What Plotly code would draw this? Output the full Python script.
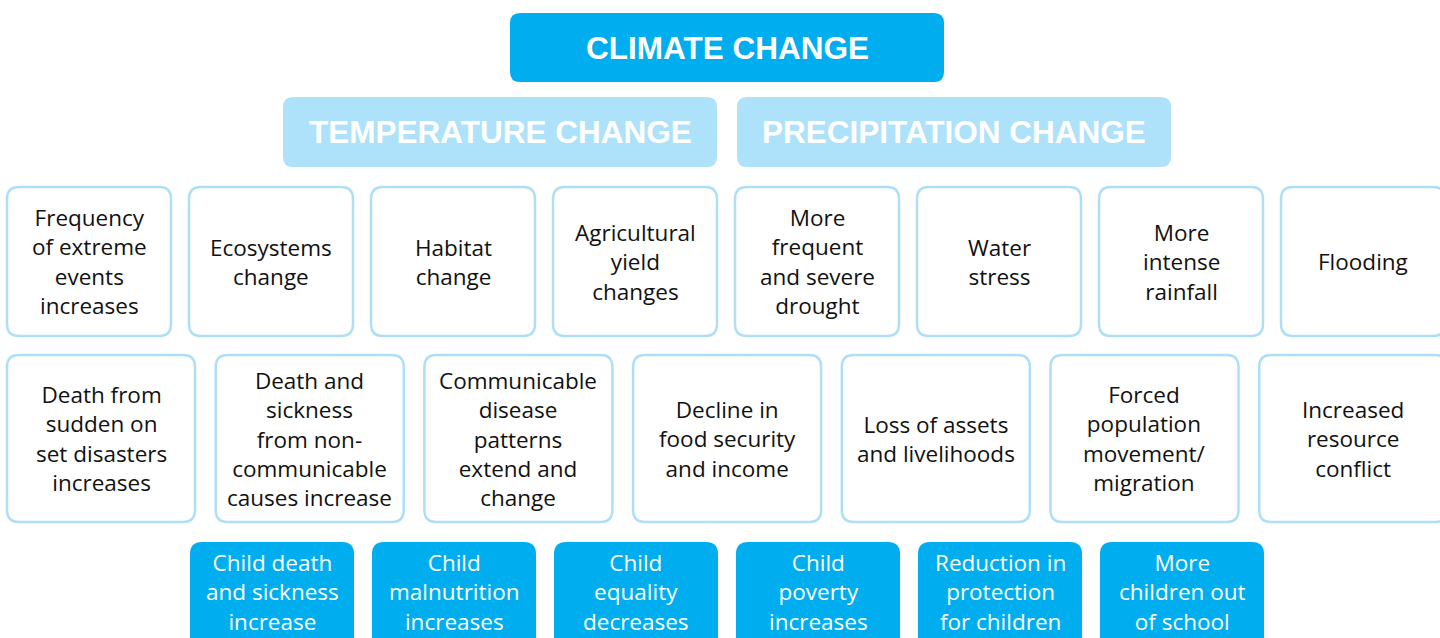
import plotly.graph_objects as go

# ---- data (text content) ----
top_label = ["CLIMATE CHANGE"]
level2_labels = ["TEMPERATURE CHANGE", "PRECIPITATION CHANGE"]
level3_labels = [
    "Frequency<br>of extreme<br>events<br>increases",
    "Ecosystems<br>change",
    "Habitat<br>change",
    "Agricultural<br>yield<br>changes",
    "More<br>frequent<br>and severe<br>drought",
    "Water<br>stress",
    "More<br>intense<br>rainfall",
    "Flooding",
]
level4_labels = [
    "Death from<br>sudden on<br>set disasters<br>increases",
    "Death and<br>sickness<br>from non-<br>communicable<br>causes increase",
    "Communicable<br>disease<br>patterns<br>extend and<br>change",
    "Decline in<br>food security<br>and income",
    "Loss of assets<br>and livelihoods",
    "Forced<br>population<br>movement/<br>migration",
    "Increased<br>resource<br>conflict",
]
level5_labels = [
    "Child death<br>and sickness<br>increase",
    "Child<br>malnutrition<br>increases",
    "Child<br>equality<br>decreases",
    "Child<br>poverty<br>increases",
    "Reduction in<br>protection<br>for children",
    "More<br>children out<br>of school",
]

# ---- styles ----
W, H = 1440, 638
DARK = "#00AEEF"
LIGHT = "#AEE2FA"
BORDER = "#AEDFF7"
TEXT = "#111111"
BODY_FONT = "Open Sans"
BODY_SIZE = 22.5


def rounded(x0, y0, x1, y1, r):
    return (f"M {x0+r},{y0} L {x1-r},{y0} Q {x1},{y0} {x1},{y0+r} "
            f"L {x1},{y1-r} Q {x1},{y1} {x1-r},{y1} L {x0+r},{y1} "
            f"Q {x0},{y1} {x0},{y1-r} L {x0},{y0+r} Q {x0},{y0} {x0+r},{y0} Z")


shapes = []
annotations = []


def add_box(x0, y0, x1, y1, label, fill, line_color, line_w, font_color,
            size, bold=False, ty=None, r=12):
    shapes.append(dict(type="path", path=rounded(x0, y0, x1, y1, r),
                       xref="x", yref="y", fillcolor=fill,
                       line=dict(color=line_color, width=line_w), layer="below"))
    annotations.append(dict(
        x=(x0 + x1) / 2, y=(y0 + y1) / 2 if ty is None else ty,
        xref="x", yref="y", text=label, showarrow=False,
        xanchor="center", yanchor="middle", align="center",
        font=dict(family="Liberation Sans" if bold else BODY_FONT,
                  size=size, color=font_color,
                  weight="bold" if bold else 500)))


# level 1
add_box(510, 13, 944, 82, top_label[0], DARK, DARK, 0, "white", 31.5, bold=True, r=10)
# level 2
for i, lab in enumerate(level2_labels):
    x0 = 283 + i * 454
    add_box(x0, 97, x0 + 434, 167, lab, LIGHT, LIGHT, 0, "white", 31.5, bold=True, r=10)
# level 3
for i, lab in enumerate(level3_labels):
    x0 = 7 + i * 182
    add_box(x0, 187, x0 + 164, 336, lab, "white", BORDER, 2.5, TEXT, BODY_SIZE,
            ty=261.5)
# level 4
for i, lab in enumerate(level4_labels):
    x0 = 7 + i * 208.7
    add_box(x0, 355, x0 + 188, 522, lab, "white", BORDER, 2.5, TEXT, BODY_SIZE,
            ty=438.5)
# level 5
for i, lab in enumerate(level5_labels):
    x0 = 190 + i * 182
    add_box(x0, 542, x0 + 164, 700, lab, DARK, DARK, 0, "white", BODY_SIZE, ty=592)

fig = go.Figure()
fig.update_layout(
    width=W, height=H,
    margin=dict(l=0, r=0, t=0, b=0),
    paper_bgcolor="white", plot_bgcolor="white",
    xaxis=dict(range=[0, W], visible=False, fixedrange=True),
    yaxis=dict(range=[H, 0], visible=False, fixedrange=True),
    shapes=shapes, annotations=annotations,
    showlegend=False,
)
fig.write_html("out.html", config={"displayModeBar": False},
               post_script="document.body.style.margin='0';"
                           "document.body.style.overflow='hidden';")
